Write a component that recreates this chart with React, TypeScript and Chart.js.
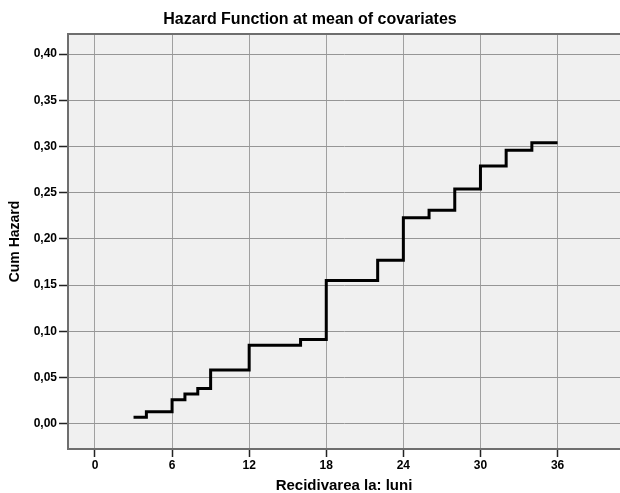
import React, { useEffect, useRef } from "react";
import { Chart, registerables } from "chart.js";

Chart.register(...registerables);

// Step times (months) and cumulative hazard values
const months = [3, 4, 6, 7, 8, 9, 12, 16, 18, 22, 24, 26, 28, 30, 32, 34, 36];
const cumHazard = [0.007, 0.013, 0.026, 0.032, 0.038, 0.058, 0.085, 0.091, 0.155, 0.177, 0.223, 0.231, 0.254, 0.279, 0.296, 0.304, 0.304];
const xTicks = [0, 6, 12, 18, 24, 30, 36];
const yTicks = [0, 0.05, 0.1, 0.15, 0.2, 0.25, 0.3, 0.35, 0.4];

const titleText = "Hazard Function at mean of covariates";
const xTitle = "Recidivarea la: luni";
const yTitle = "Cum Hazard";

const FONT = "'Liberation Sans', Arial, sans-serif";

export default function App() {
  const ref = useRef<HTMLCanvasElement | null>(null);

  useEffect(() => {
    if (!ref.current) return;
    const bgPlugin = {
      id: "bgPlugin",
      beforeDraw(chart: any) {
        const { ctx, chartArea } = chart;
        ctx.save();
        ctx.fillStyle = "#f0f0f0";
        ctx.fillRect(chartArea.left, chartArea.top, chartArea.right - chartArea.left, chartArea.bottom - chartArea.top);
        ctx.restore();
      },
      afterDraw(chart: any) {
        const { ctx, chartArea } = chart;
        ctx.save();
        ctx.strokeStyle = "#6e6e6e";
        ctx.lineWidth = 2;
        ctx.beginPath();
        ctx.moveTo(chartArea.left - 1, chartArea.top);
        ctx.lineTo(chartArea.right, chartArea.top);
        ctx.stroke();
        ctx.restore();
      },
    };

    const chart = new Chart(ref.current, {
      type: "line",
      data: {
        datasets: [
          {
            data: months.map((m, i) => ({ x: m, y: cumHazard[i] })),
            borderColor: "#000000",
            borderWidth: 3,
            pointRadius: 0,
            fill: false,
            stepped: "before",
          },
        ],
      },
      options: {
        animation: false,
        responsive: false,
        devicePixelRatio: 1,
        layout: { padding: 0 },
        plugins: {
          legend: { display: false },
          tooltip: { enabled: false },
          title: {
            display: true,
            text: titleText,
            color: "#000",
            font: { family: FONT, size: 16, weight: "bold", lineHeight: 1.2 },
            padding: { top: 10, bottom: 4.8 },
          },
        },
        scales: {
          x: {
            type: "linear",
            min: -2.1,
            max: 40.86,
            afterBuildTicks: (axis: any) => {
              axis.ticks = xTicks.map((v) => ({ value: v }));
            },
            afterFit: (scale: any) => {
              scale.height = 44;
            },
            grid: {
              color: "#a0a0a0",
              lineWidth: 1,
              tickColor: "#222",
              tickLength: 8,
              tickWidth: 1.5,
            },
            border: { display: true, color: "#6e6e6e", width: 2 },
            ticks: {
              color: "#000",
              font: { family: FONT, size: 12, weight: "bold" },
              padding: 1,
              maxRotation: 0,
              callback: (v: any) => String(v),
            },
            title: {
              display: true,
              text: xTitle,
              color: "#000",
              font: { family: FONT, size: 15, weight: "bold", lineHeight: 1.2 },
              padding: { top: 0, bottom: -2 },
            },
          },
          y: {
            type: "linear",
            min: -0.0274,
            max: 0.4218,
            afterBuildTicks: (axis: any) => {
              axis.ticks = yTicks.map((v) => ({ value: v }));
            },
            afterFit: (scale: any) => {
              scale.width = 68;
            },
            grid: {
              color: "#969696",
              lineWidth: 1,
              tickColor: "#222",
              tickLength: 9,
              tickWidth: 1.5,
            },
            border: { display: true, color: "#6e6e6e", width: 2 },
            ticks: {
              color: "#000",
              font: { family: FONT, size: 12, weight: "bold" },
              padding: 2,
              callback: (v: any) => Number(v).toFixed(2).replace(".", ","),
            },
            title: {
              display: true,
              text: yTitle,
              color: "#000",
              font: { family: FONT, size: 14, weight: "bold", lineHeight: 1.2 },
              padding: { top: 7, bottom: 0 },
            },
          },
        },
      },
      plugins: [bgPlugin],
    } as any);
    return () => chart.destroy();
  }, []);

  return (
    <div style={{ position: "absolute", left: 0, top: 0, width: 620, height: 493, background: "#fff" }}>
      <canvas ref={ref} width={620} height={493} style={{ width: 620, height: 493, display: "block" }} />
    </div>
  );
}
